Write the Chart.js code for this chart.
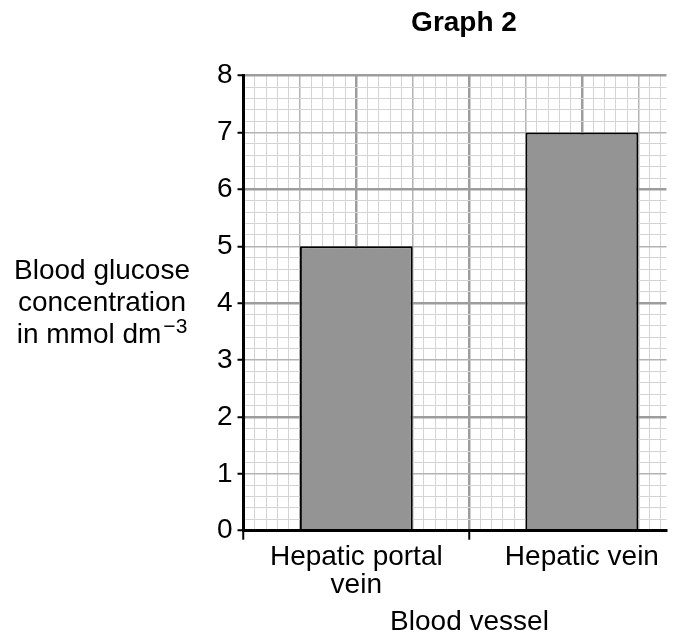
<!DOCTYPE html>
<html><head><meta charset="utf-8">
<script src="https://cdn.jsdelivr.net/npm/chart.js@4.4.1/dist/chart.umd.min.js"></script>
<style>html,body{margin:0;padding:0;background:#fff;}#wrap{width:685px;height:639px;}</style>
</head><body><div id="wrap"><canvas id="c" width="685" height="639"></canvas></div>
<script>
// ---- data ----
const chartTitle = "Graph 2";
const categories = ["Hepatic portal vein", "Hepatic vein"];
const glucose = [5, 7];
const yTicks = [0, 1, 2, 3, 4, 5, 6, 7, 8];
const yTitleLines = ["Blood glucose", "concentration", "in mmol dm"];
const yTitleSup = "\u22123";
const xTitle = "Blood vessel";

// ---- layout / style ----
const FONT = "'Liberation Sans', Arial, Helvetica, sans-serif";
const X_SPAN = 7.5;          // width of graph paper in x units
const MINOR = 0.2;
const catPos = i => 2 + 4 * i;
const sepPos = (catPos(0) + catPos(1)) / 2;

function wrapLabel(s, max) {
  const words = s.split(' '); const lines = []; let cur = '';
  for (const w of words) {
    const t = cur ? cur + ' ' + w : w;
    if (t.length > max && cur) { lines.push(cur); cur = w; } else cur = t;
  }
  if (cur) lines.push(cur);
  return lines.length > 1 ? lines : lines[0];
}
function gridTicks(lo, hi) {
  const n = Math.floor((hi - lo) / MINOR + 1e-6); const t = [];
  for (let i = 0; i <= n; i++) t.push({ value: +(lo + i * MINOR).toFixed(4) });
  return t;
}
const tv = c => (c && c.tick && typeof c.tick.value === 'number') ? c.tick.value : null;
function level(v) {
  if (v === null) return 0;
  const k = Math.round(v / MINOR);
  if (k % 10 === 0) return 2;
  if (k % 5 === 0) return 1;
  return 0;
}
const GRID_COL = ['#d4d4d4', '#b3b3b3', '#9d9d9d'];
const GRID_W = [1, 1.5, 2.5];
const isInt = v => v !== null && Math.abs(v - Math.round(v)) < 1e-6;

const textPlugin = {
  id: 'texts',
  afterDraw(chart) {
    const ctx = chart.ctx;
    ctx.save();
    ctx.fillStyle = '#000';
    ctx.textBaseline = 'alphabetic';
    ctx.textAlign = 'center';
    ctx.font = "bold 28px " + FONT;
    ctx.fillText(chartTitle, 464, 31);
    ctx.font = "28px " + FONT;
    ctx.fillText(xTitle, 469.5, 630);
    const cx = 102, base = [279, 311, 343];
    yTitleLines.forEach((ln, i) => {
      if (i === yTitleLines.length - 1) {
        ctx.font = "28px " + FONT;
        const w1 = ctx.measureText(ln).width;
        ctx.font = "21px " + FONT;
        const w2 = ctx.measureText(yTitleSup).width;
        const x0 = cx - (w1 + 2 + w2) / 2;
        ctx.textAlign = 'left';
        ctx.font = "28px " + FONT;
        ctx.fillText(ln, x0, base[i]);
        ctx.font = "21px " + FONT;
        ctx.fillText(yTitleSup, x0 + w1 + 2, base[i] - 10);
        ctx.textAlign = 'center';
      } else {
        ctx.font = "28px " + FONT;
        ctx.fillText(ln, cx, base[i]);
      }
    });
    ctx.restore();
  }
};

new Chart(document.getElementById('c'), {
  type: 'bar',
  data: {
    datasets: [{
      data: glucose.map((v, i) => ({ x: catPos(i), y: v })),
      xAxisID: 'xb', yAxisID: 'y',
      backgroundColor: '#949494', borderColor: '#000', borderWidth: 2,
      barPercentage: 1, categoryPercentage: 0.5
    }]
  },
  options: {
    responsive: false, animation: false, devicePixelRatio: 1,
    layout: { padding: { left: 0, right: 18.5, top: 75.7, bottom: 0 } },
    plugins: { legend: { display: false }, tooltip: { enabled: false }, title: { display: false } },
    scales: {
      x: {
        type: 'linear', position: 'bottom', weight: 1, min: 0, max: X_SPAN, offset: false,
        afterBuildTicks: a => { a.ticks = gridTicks(0, X_SPAN); },
        afterFit: s => { s.height = 639 - 530.7; },
        grid: {
          offset: false,
          color: c => GRID_COL[level(tv(c))],
          lineWidth: c => GRID_W[level(tv(c))],
          drawTicks: true, tickLength: 9,
          tickColor: c => { const v = tv(c); return (v !== null && (Math.abs(v) < 1e-6 || Math.abs(v - sepPos) < 1e-6)) ? '#000' : 'rgba(0,0,0,0)'; },
          tickWidth: 2
        },
        border: { display: true, color: '#000', width: 3, z: 1 },
        ticks: {
          autoSkip: false, maxRotation: 0, minRotation: 0, padding: 4, color: '#000',
          font: { family: FONT, size: 28, lineHeight: 1.0 },
          callback: v => {
            const i = categories.findIndex((c, j) => Math.abs(catPos(j) - v) < 1e-6);
            return i < 0 ? '' : wrapLabel(categories[i], 15);
          }
        }
      },
      xb: {
        type: 'linear', position: 'bottom', weight: 0, display: true, min: 0, max: X_SPAN, offset: false,
        afterBuildTicks: a => { a.ticks = categories.map((c, i) => ({ value: catPos(i) })); },
        afterFit: s => { s.height = 0; },
        grid: { display: false, drawTicks: false, offset: false },
        border: { display: false },
        ticks: { display: false }
      },
      y: {
        type: 'linear', position: 'left', min: yTicks[0], max: yTicks[yTicks.length - 1],
        afterBuildTicks: a => { a.ticks = gridTicks(yTicks[0], yTicks[yTicks.length - 1]); },
        afterFit: s => { s.width = 243.5; },
        grid: {
          color: c => GRID_COL[level(tv(c))],
          lineWidth: c => GRID_W[level(tv(c))],
          drawTicks: true, tickLength: 6,
          tickColor: c => isInt(tv(c)) ? '#000' : 'rgba(0,0,0,0)',
          tickWidth: 2
        },
        border: { display: true, color: '#000', width: 3, z: 1 },
        ticks: {
          autoSkip: false, padding: 5, color: '#000',
          font: { family: FONT, size: 28 },
          callback: v => (isInt(v) && yTicks.includes(Math.round(v))) ? String(Math.round(v)) : ''
        }
      }
    }
  },
  plugins: [textPlugin]
});
</script></body></html>
